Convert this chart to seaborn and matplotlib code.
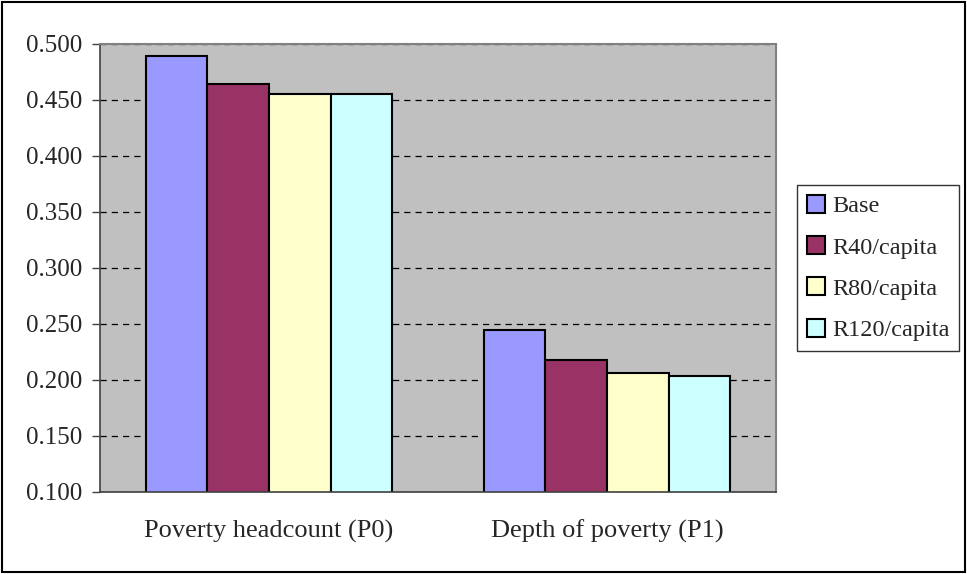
import matplotlib
matplotlib.use("Agg")
import matplotlib.pyplot as plt
import seaborn as sns
import pandas as pd
from matplotlib.patches import Rectangle

categories = ["Poverty headcount (P0)", "Depth of poverty (P1)"]
series = ["Base", "R40/capita", "R80/capita", "R120/capita"]
base = [0.489, 0.245]
r40 = [0.464, 0.218]
r80 = [0.455, 0.206]
r120 = [0.455, 0.204]
yticks = [0.100, 0.150, 0.200, 0.250, 0.300, 0.350, 0.400, 0.450, 0.500]
colors = ["#9999FF", "#993366", "#FFFFCC", "#CCFFFF"]

rows = []
for s, vals in zip(series, [base, r40, r80, r120]):
    for c, v in zip(categories, vals):
        rows.append({"category": c, "series": s, "value": v})
df = pd.DataFrame(rows)

sns.set_style("white")
plt.rcParams["font.family"] = ["Liberation Serif", "DejaVu Serif"]

W, H = 967, 574
fig = plt.figure(figsize=(W / 100, H / 100), dpi=100)
ax = fig.add_axes([100 / W, 1 - 492 / H, 676 / W, 448 / H])
ax.set_facecolor("#C0C0C0")

sns.barplot(data=df, x="category", y="value", hue="series", order=categories,
            hue_order=series, palette=colors, width=0.728, saturation=1,
            edgecolor="black", linewidth=1.5, errorbar=None, ax=ax, zorder=3)

ax.set_ylim(0.1, 0.5)
ax.set_xlim(-0.5, 1.5)
ax.set_yticks(yticks)
ax.set_yticklabels([f"{t:.3f}" for t in yticks])
ax.yaxis.grid(True, color="black", linestyle=(0, (5, 4)), linewidth=0.9, zorder=0)
ax.set_axisbelow(True)
ax.set_xlabel("")
ax.set_ylabel("")

ax.set_xticks([0, 1])
ax.set_xticklabels(categories)
ax.set_xticks([-0.5, 0.5, 1.5], minor=True)
ax.tick_params(axis="x", which="major", length=0, pad=20, labelsize=19)
ax.tick_params(axis="x", which="minor", length=6, width=1, color="#404040", direction="out")
ax.tick_params(axis="y", length=6, width=1, color="#404040", direction="out", pad=7, labelsize=18, left=True)

for side in ["left", "bottom"]:
    ax.spines[side].set_color("#404040")
    ax.spines[side].set_linewidth(1.2)
for side in ["top", "right"]:
    ax.spines[side].set_color("#808080")
    ax.spines[side].set_linewidth(1.5)
for sp in ax.spines.values():
    sp.set_zorder(5)

handles, labels = ax.get_legend_handles_labels()
if ax.legend_:
    ax.legend_.remove()
leg = fig.legend(handles, labels, loc="center left",
                 bbox_to_anchor=(797 / W, 1 - 268 / H), fontsize=17.5,
                 frameon=True, fancybox=False, shadow=False, edgecolor="black",
                 handlelength=0.75, handleheight=0.75, handletextpad=0.3,
                 labelspacing=0.78, borderpad=0.4, borderaxespad=0)
leg.get_frame().set_linewidth(1)

fig.patches.append(Rectangle((2 / W, 2 / H), 1 - 4 / W, 1 - 4 / H, transform=fig.transFigure,
                             fill=False, edgecolor="black", linewidth=1.5))

fig.savefig("out.png", dpi=100)
